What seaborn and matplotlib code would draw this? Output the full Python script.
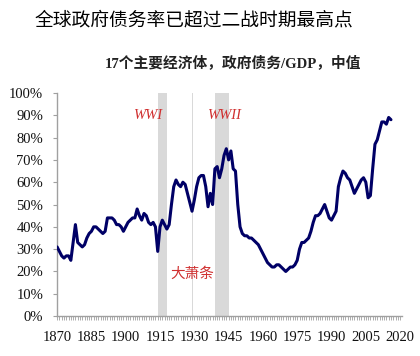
import matplotlib
matplotlib.use("Agg")
import matplotlib.pyplot as plt
import seaborn as sns
import pandas as pd
import numpy as np
from matplotlib.ticker import FixedLocator, MultipleLocator

title = "全球政府债务率已超过二战时期最高点"
subtitle = "17个主要经济体，政府债务/GDP，中值"

years = list(range(1870, 2017))
debt = [
    31, 29, 27, 26, 27, 27, 25, 33, 41, 33,   # 1870-1879
    32, 31, 32, 35, 37, 38, 40, 40, 39, 38,   # 1880-1889
    37, 38, 44, 44, 44, 43, 41, 41, 40, 38,   # 1890-1899
    40, 42, 43, 44, 44, 48, 45, 43, 46, 45,   # 1900-1909
    42, 41, 42, 40, 29, 40, 43, 41, 39, 41,   # 1910-1919
    50, 58, 61, 59, 58, 60, 59, 55, 51, 47,   # 1920-1929
    52, 58, 62, 63, 63, 58, 49, 55, 50, 66,   # 1930-1939
    67, 62, 66, 72, 75, 70, 74, 66, 65, 50,   # 1940-1949
    40, 37, 36, 36, 35, 35, 34, 33, 32, 30,   # 1950-1959
    28, 26, 24, 23, 22, 22, 23, 23, 22, 21,   # 1960-1969
    20, 21, 22, 22, 23, 25, 30, 33, 33, 34,   # 1970-1979
    35, 38, 42, 45, 45, 46, 48, 50, 47, 44,   # 1980-1989
    43, 45, 47, 58, 62, 65, 64, 62, 61, 58,   # 1990-1999
    55, 57, 59, 61, 62, 60, 53, 54, 66, 77,   # 2000-2009
    79, 83, 87, 87, 86, 89, 88,               # 2010-2016
]
df = pd.DataFrame({"year": years, "debt": np.array(debt) / 100.0})

x_ticks = [1870, 1885, 1900, 1915, 1930, 1945, 1960, 1975, 1990, 2005, 2020]
y_ticks = [0, 0.1, 0.2, 0.3, 0.4, 0.5, 0.6, 0.7, 0.8, 0.9, 1.0]
y_labels = ["0%", "10%", "20%", "30%", "40%", "50%", "60%", "70%", "80%", "90%", "100%"]
spans = [(1914, 1918), (1929, 1929.6), (1939, 1945)]
notes = [("WWI", 1909.7, 0.90), ("WWII", 1943, 0.90), ("大萧条", 1929, 0.19)]

sns.set_theme(style="white")
plt.rcParams["font.family"] = ["Liberation Serif", "Noto Sans CJK SC", "DejaVu Sans"]

fig = plt.figure(figsize=(4.2, 3.56), dpi=100)
ax = fig.add_axes([0.136, 0.112, 0.821, 0.627])

for a, b in spans:
    ax.axvspan(a, b, color="#d9d9d9", lw=0, zorder=0)

sns.lineplot(data=df, x="year", y="debt", color="#000066", linewidth=2.2, ax=ax, zorder=3)

ax.set_xlim(1870, 2020.8)
ax.set_ylim(0, 1.0)
ax.xaxis.set_major_locator(FixedLocator(x_ticks))
ax.set_xticklabels([str(t) for t in x_ticks])
ax.xaxis.set_minor_locator(MultipleLocator(1))
ax.yaxis.set_major_locator(FixedLocator(y_ticks))
ax.set_yticklabels(y_labels)
ax.set_xlabel("")
ax.set_ylabel("")

for side in ["top", "right"]:
    ax.spines[side].set_visible(False)
for side in ["left", "bottom"]:
    ax.spines[side].set_color("#a0a0a0")
    ax.spines[side].set_linewidth(1.0)

ax.tick_params(axis="x", which="both", direction="out", length=3, width=0.6,
               color="#a0a0a0", bottom=True, labelsize=10.5, labelcolor="#111111", pad=8)
ax.tick_params(axis="x", which="minor", length=3)
ax.tick_params(axis="y", which="major", direction="out", length=3, width=0.8,
               color="#a0a0a0", left=True, labelsize=10.5, labelcolor="#111111", pad=7)

for txt, xx, yy in notes:
    ax.text(xx, yy, txt, color="#d03030", fontsize=10.5, style="italic",
            ha="center", va="center",
            family=["Liberation Serif", "Noto Sans CJK SC"], zorder=4)

fig.text(0.083, 0.945, title, fontsize=13.5, ha="left", va="center",
         family=["Noto Sans CJK SC"], color="#000000")
fig.text(0.555, 0.825, subtitle, fontsize=10.6, ha="center", va="center",
         fontweight="bold", family=["Liberation Serif", "Noto Sans CJK SC"], color="#222222")

fig.savefig("out.png", dpi=100)
